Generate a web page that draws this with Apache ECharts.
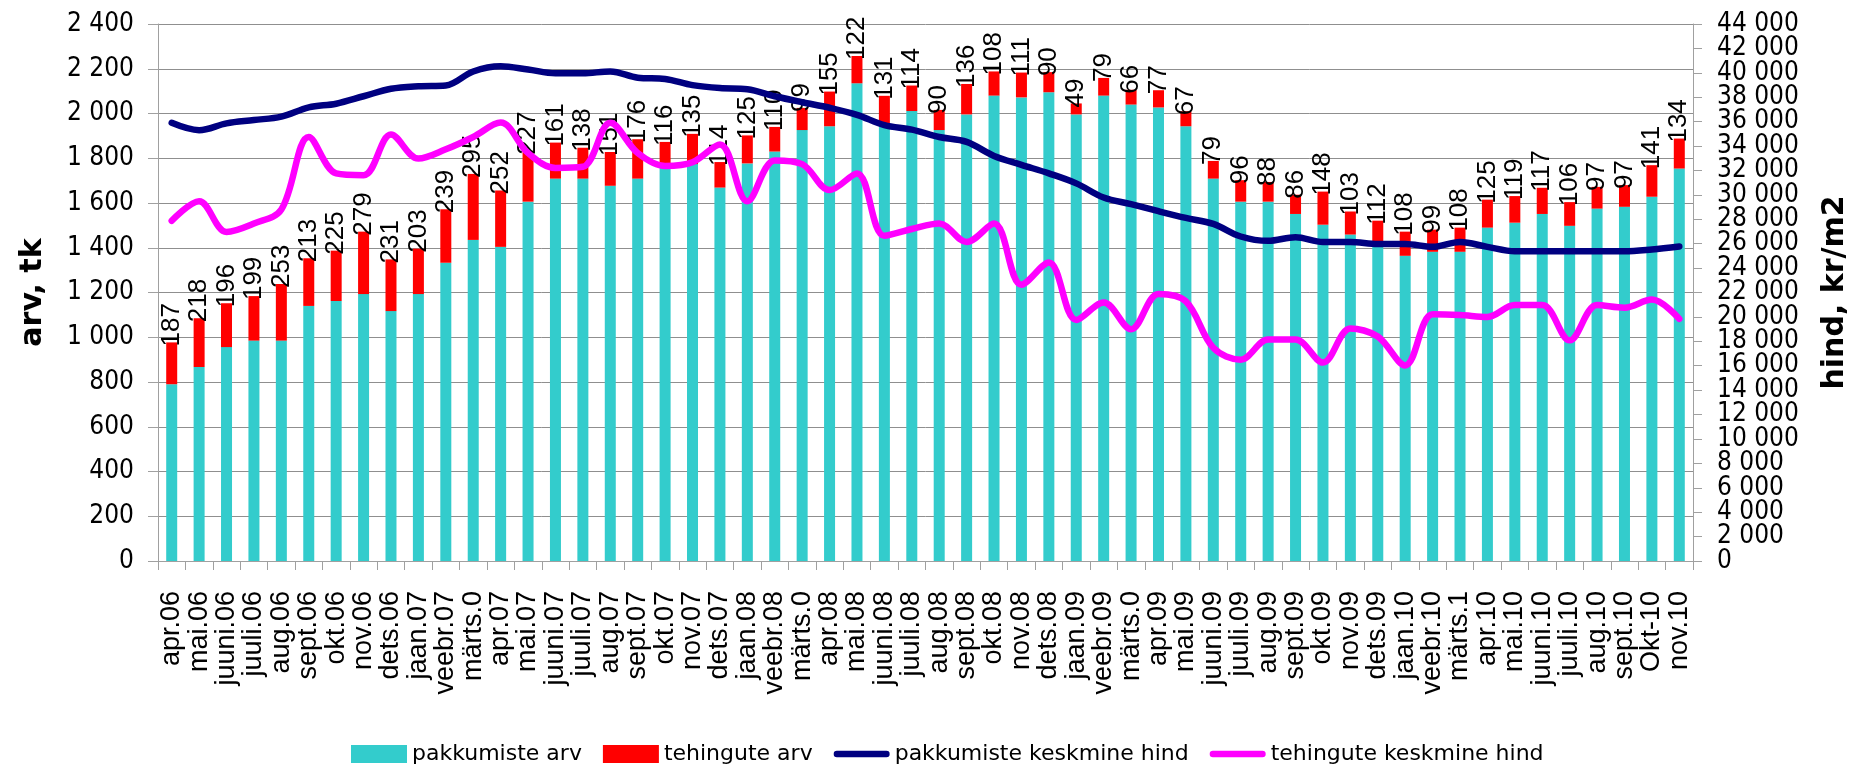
<!DOCTYPE html>
<html>
<head>
<meta charset="utf-8">
<script src="https://cdn.jsdelivr.net/npm/echarts@6/dist/echarts.min.js"></script>
<style>
html,body{margin:0;padding:0;background:#fff;}
#chart{width:1854px;height:770px;}
</style>
</head>
<body>
<div id="chart"></div>
<script>
const categories = ["apr.06","mai.06","juuni.06","juuli.06","aug.06","sept.06","okt.06","nov.06","dets.06","jaan.07","veebr.07","märts.0","apr.07","mai.07","juuni.07","juuli.07","aug.07","sept.07","okt.07","nov.07","dets.07","jaan.08","veebr.08","märts.0","apr.08","mai.08","juuni.08","juuli.08","aug.08","sept.08","okt.08","nov.08","dets.08","jaan.09","veebr.09","märts.0","apr.09","mai.09","juuni.09","juuli.09","aug.09","sept.09","okt.09","nov.09","dets.09","jaan.10","veebr.10","märts.1","apr.10","mai.10","juuni.10","juuli.10","aug.10","sept.10","Okt-10","nov.10"];

const pakkumisteArv = [790,867,956,985,985,1140,1162,1193,1117,1193,1333,1435,1404,1606,1709,1709,1677,1709,1757,1774,1669,1777,1830,1926,1943,2135,1948,2011,1926,1996,2080,2072,2095,1996,2080,2040,2027,1943,1709,1606,1606,1551,1503,1459,1409,1364,1382,1382,1490,1512,1551,1498,1575,1583,1628,1754];

const tehinguteArv = [187,218,196,199,253,213,225,279,231,203,239,295,252,227,161,138,151,176,116,135,114,125,110,99,155,122,131,114,90,136,108,111,90,49,79,66,77,67,79,96,88,86,148,103,112,108,99,108,125,119,117,106,97,97,141,134];

const pakkumisteHind = [35900,35300,35860,36130,36410,37170,37470,38080,38690,38900,38960,40110,40540,40270,39960,39960,40110,39600,39500,38990,38750,38660,38080,37590,37140,36560,35710,35340,34740,34340,33190,32460,31760,30940,29780,29240,28660,28110,27620,26590,26230,26530,26140,26140,25980,25980,25740,26140,25740,25380,25380,25380,25380,25380,25530,25770];

const tehinguteHind = [27870,29480,26960,27650,28800,34740,31760,31610,34950,32970,33730,34740,35920,33430,32210,32300,35900,33430,32370,32670,34130,29480,32820,32520,30390,31760,26650,27200,27650,26140,27650,22640,24460,19750,21180,18990,21880,21270,17470,16500,18140,18140,16260,19050,18390,16020,20210,20150,20000,20970,20970,18080,20970,20760,21420,19840];

const seriesNames = ["pakkumiste arv","tehingute arv","pakkumiste keskmine hind","tehingute keskmine hind"];

function fmt(v){ return String(v).replace(/\B(?=(\d{3})+(?!\d))/g, ' '); }

const condensed = "'DejaVu Sans Condensed','Liberation Sans',sans-serif";
const sans = "'Liberation Sans',Arial,sans-serif";
const axisGray = '#a0a0a0';
const capsule = 'path://M3.5,0 L57.5,0 A3.5,3.5 0 0 1 57.5,7 L3.5,7 A3.5,3.5 0 0 1 3.5,0 Z';
const rightLabelStyle = {margin:24, fontFamily:condensed, fontSize:26, color:'#000', hideOverlap:false};

const chart = echarts.init(document.getElementById('chart'), null, {renderer:'canvas'});
chart.setOption({
  animation: false,
  backgroundColor: '#ffffff',
  grid: {left:158, right:161, top:24, bottom:209, containLabel:false, outerBoundsMode:'none'},
  legend: {
    left: 346, top: 738,
    itemWidth: 56, itemHeight: 18, itemGap: 21,
    symbolKeepAspect: true,
    textStyle: {fontFamily:'DejaVu Sans', fontSize:22, color:'#000'},
    data: [
      {name: seriesNames[0], icon: 'rect'},
      {name: seriesNames[1], icon: 'rect'},
      {name: seriesNames[2], icon: capsule, itemStyle:{color:'#000080'}},
      {name: seriesNames[3], icon: capsule, itemStyle:{color:'#FF00FF'}}
    ]
  },
  xAxis: {
    type: 'category',
    data: categories,
    boundaryGap: true,
    axisLine: {show:true, lineStyle:{color:axisGray, width:1}},
    axisTick: {show:true, length:9, interval:0, lineStyle:{color:axisGray}},
    axisLabel: {interval:0, rotate:90, margin:30, fontFamily:sans, fontSize:27, color:'#000', hideOverlap:false},
    splitLine: {show:false}
  },
  yAxis: [
    {
      type:'value', min:0, max:2400, interval:200, position:'left',
      name:'arv, tk', nameLocation:'middle', nameGap:110,
      nameTextStyle:{fontFamily:'DejaVu Sans', fontWeight:'bold', fontSize:30, color:'#000'},
      axisLine:{show:true, lineStyle:{color:axisGray, width:1}},
      axisTick:{show:true, length:10, lineStyle:{color:axisGray}},
      axisLabel:{formatter:fmt, margin:24, fontFamily:condensed, fontSize:26, color:'#000', hideOverlap:false, showMinLabel:true, showMaxLabel:true},
      splitLine:{show:true, lineStyle:{color:'#8f8f8f', width:1}}
    },
    {
      // right axis: ticks every 2 000, labels at the odd thousands (2 000, 6 000, ...)
      type:'value', min:0, max:44000, interval:2000, position:'right',
      name:'hind, kr/m2', nameLocation:'middle', nameGap:127, nameRotate:90,
      nameTextStyle:{fontFamily:'DejaVu Sans', fontWeight:'bold', fontSize:30, color:'#000'},
      axisLine:{show:true, lineStyle:{color:axisGray, width:1}},
      axisTick:{show:true, length:9, lineStyle:{color:axisGray}},
      axisLabel:Object.assign({formatter:function(v){ return v % 4000 === 0 ? '' : fmt(v); }, showMinLabel:false, showMaxLabel:false}, rightLabelStyle),
      splitLine:{show:false}
    },
    {
      // same right scale, labels at 0, 4 000, 8 000 ... 44 000
      type:'value', min:0, max:44000, interval:4000, position:'right',
      axisLine:{show:false},
      axisTick:{show:true, length:9, lineStyle:{color:axisGray}},
      axisLabel:Object.assign({formatter:fmt, showMinLabel:true, showMaxLabel:true}, rightLabelStyle),
      splitLine:{show:false}
    }
  ],
  series: [
    {
      name: seriesNames[0], type:'bar', stack:'arv', barWidth:11,
      itemStyle:{color:'#33CCCC'},
      data: pakkumisteArv
    },
    {
      name: seriesNames[1], type:'bar', stack:'arv', barWidth:11,
      itemStyle:{color:'#FF0000'},
      label:{show:true, position:'top', rotate:90, align:'left', verticalAlign:'middle', distance:-7,
             offset:[3,0], fontFamily:sans, fontSize:26, color:'#000'},
      data: tehinguteArv
    },
    {
      name: seriesNames[2], type:'line', yAxisIndex:1, smooth:0.35, symbol:'none', showSymbol:false,
      lineStyle:{color:'#000080', width:6.5, cap:'round', join:'round'},
      itemStyle:{color:'#000080'},
      data: pakkumisteHind
    },
    {
      name: seriesNames[3], type:'line', yAxisIndex:1, smooth:0.35, symbol:'none', showSymbol:false,
      lineStyle:{color:'#FF00FF', width:6.5, cap:'round', join:'round'},
      itemStyle:{color:'#FF00FF'},
      data: tehinguteHind
    }
  ]
});
</script>
</body>
</html>
